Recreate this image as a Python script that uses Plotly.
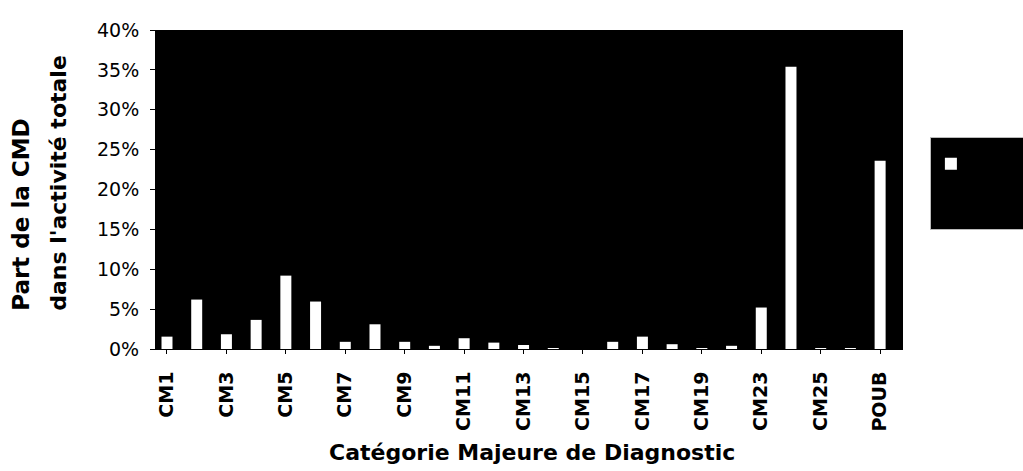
import plotly.graph_objects as go

# CMD categories (every other one gets a tick label, as in the scan)
categories = ["CM1", "CM2", "CM3", "CM4", "CM5", "CM6", "CM7", "CM8", "CM9", "CM10",
              "CM11", "CM12", "CM13", "CM14", "CM15", "CM16", "CM17", "CM18", "CM19",
              "CM21", "CM23", "CM24", "CM25", "CM26", "POUB"]
# share of each CMD in total activity, in %
share = [1.55, 6.2, 1.85, 3.65, 9.2, 5.95, 0.9, 3.1, 0.9, 0.4,
         1.35, 0.8, 0.5, 0.05, 0.0, 0.9, 1.55, 0.6, 0.05,
         0.4, 5.2, 35.4, 0.1, 0.1, 23.6]
tick_labels = categories[::2]
y_ticks = [0, 5, 10, 15, 20, 25, 30, 35, 40]

FONT = "DejaVu Sans"

fig = go.Figure()
# legend text is black on black in the scan, so the entry is left blank
fig.add_trace(go.Bar(
    x=categories, y=share, name="<br>",
    marker=dict(color="white", line=dict(width=0)),
    showlegend=True,
))

fig.update_layout(
    width=1023, height=471,
    margin=dict(l=156, r=120, t=30, b=122, autoexpand=False),
    paper_bgcolor="white", plot_bgcolor="black",
    bargap=0.63,
    font=dict(family=FONT, color="black"),
    legend=dict(
        orientation="h",
        x=1.036, y=0.665, xanchor="left", yanchor="top",
        bgcolor="black", bordercolor="#bbbbbb", borderwidth=1,
        font=dict(family=FONT, size=30, color="black"),
        valign="top", entrywidth=110, entrywidthmode="pixels",
    ),
)

fig.update_xaxes(
    type="category", range=[-0.37, 24.77],
    tickmode="array", tickvals=tick_labels, ticktext=tick_labels,
    tickangle=-90, ticks="outside", ticklen=4, tickcolor="black",
    ticklabelstandoff=10,
    tickfont=dict(family=FONT, size=19, color="black", weight="bold"),
    showline=True, linecolor="black", showgrid=False,
)
fig.update_yaxes(
    range=[0, 40], tickmode="array", tickvals=y_ticks,
    ticktext=[f"{v}%" for v in y_ticks],
    ticks="outside", ticklen=5, tickcolor="black", ticklabelstandoff=7,
    tickfont=dict(family=FONT, size=19, color="black"),
    showline=True, linecolor="black", showgrid=False, zeroline=False,
)

# axis titles
fig.add_annotation(
    text="Catégorie Majeure de Diagnostic", xref="paper", yref="paper",
    x=0.504, y=-0.326, xanchor="center", yanchor="middle", showarrow=False,
    font=dict(family=FONT, size=22, color="black", weight="bold"),
)
fig.add_annotation(
    text="Part de la CMD", xref="paper", yref="paper",
    x=-0.181, y=0.113, xanchor="center", yanchor="bottom", textangle=-90,
    showarrow=False, font=dict(family=FONT, size=23, color="black", weight="bold"),
)
fig.add_annotation(
    text="dans l'activité totale", xref="paper", yref="paper",
    x=-0.130, y=0.113, xanchor="center", yanchor="bottom", textangle=-90,
    showarrow=False, font=dict(family=FONT, size=22, color="black", weight="bold"),
)

fig.write_html("out.html", config={"displayModeBar": False},
               post_script="document.body.style.margin='0';")
